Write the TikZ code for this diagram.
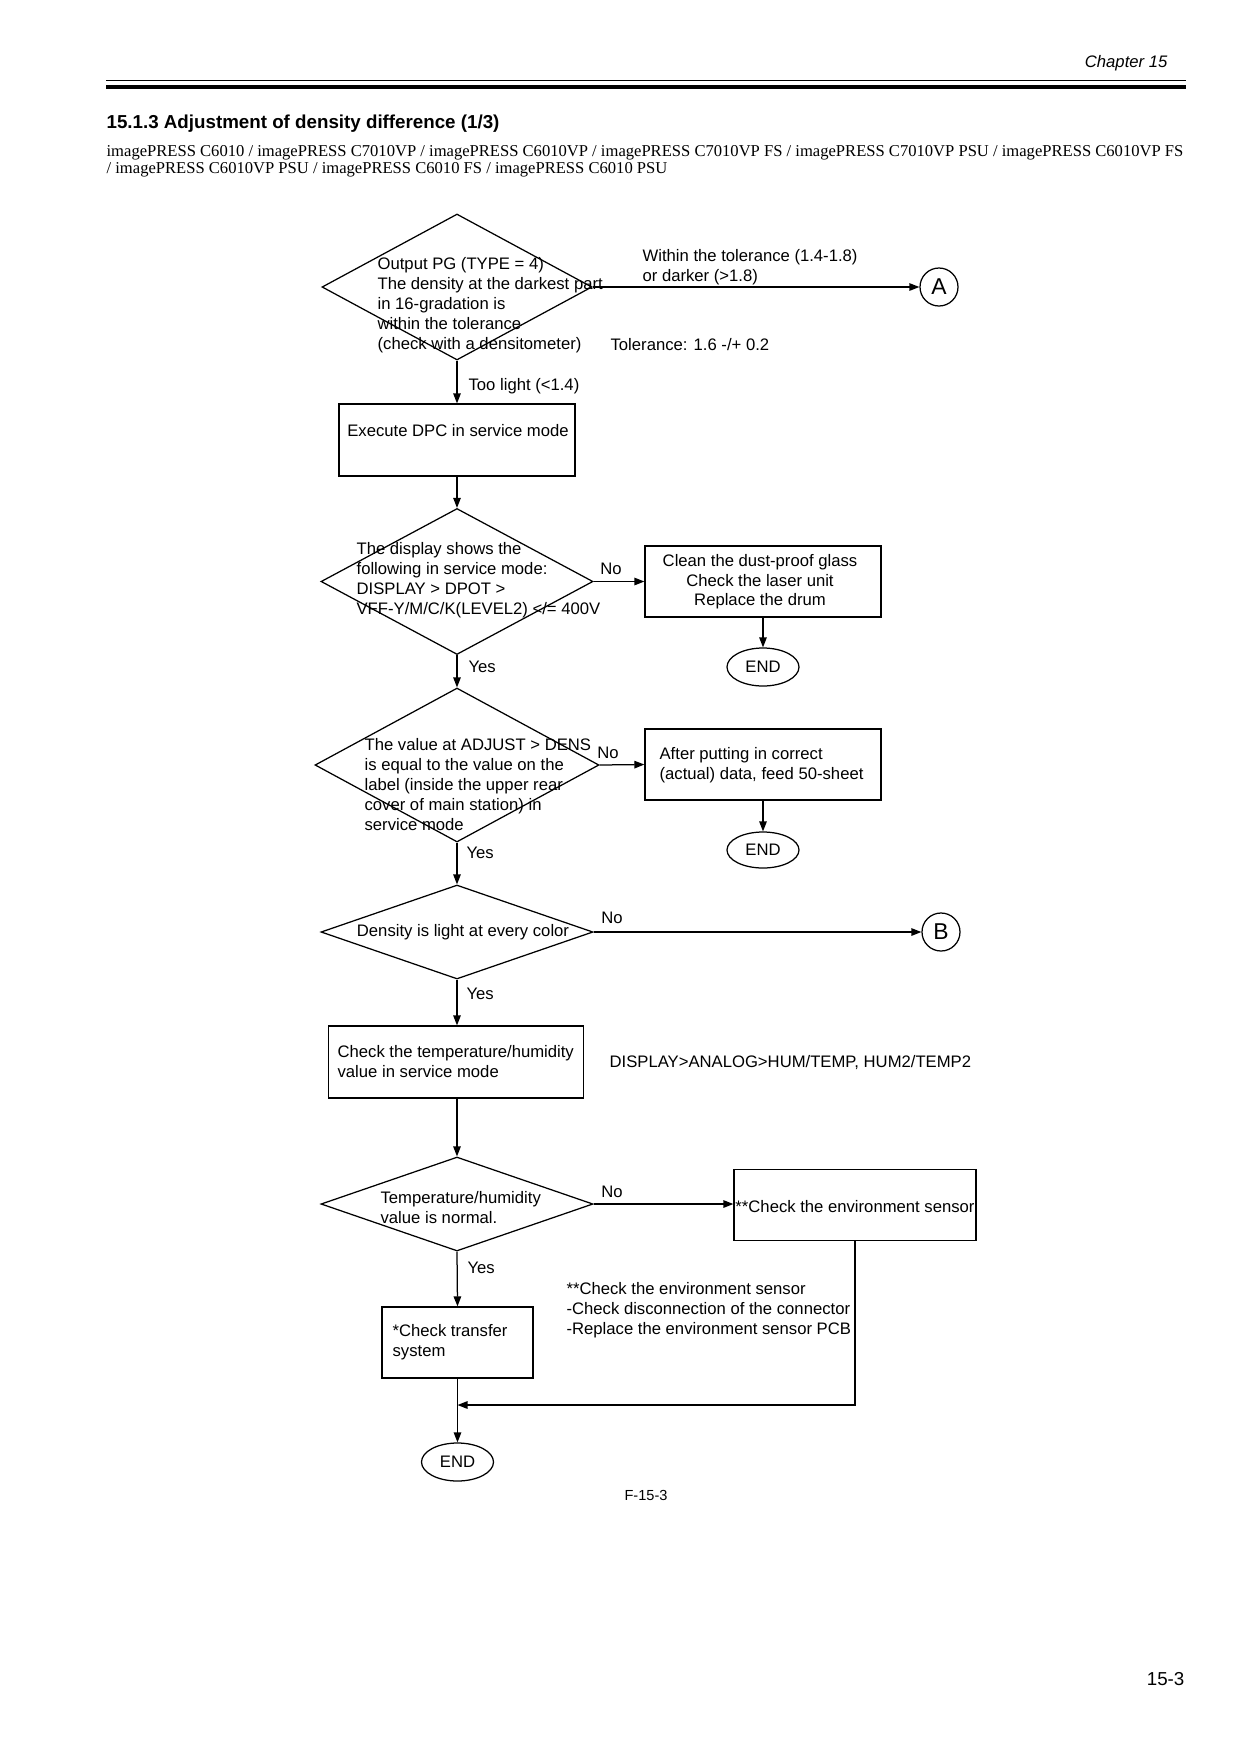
\documentclass[tikz,border=0pt]{standalone}
\usepackage{fontspec}
\setmainfont{Liberation Sans}
\newfontfamily\seriffont{Liberation Serif}
\usetikzlibrary{shapes.geometric,arrows.meta}
\newdimen\px \px=0.48pt
\begin{document}
\begin{tikzpicture}[x=0.48pt,y=-0.48pt,line width=0.6pt,
  arr/.style={-{Triangle[length=4.8pt,width=3.6pt]}},
  dia/.style={draw,diamond,inner sep=0pt},
  box/.style={draw,rectangle,inner sep=0pt},
  term/.style={draw,ellipse,inner sep=0pt,minimum width=72\px,minimum height=38\px,font=\fontsize{8}{9.6}\selectfont},
  conn/.style={draw,circle,inner sep=0pt,minimum size=38\px,font=\fontsize{11}{13}\selectfont},
  txt/.style={inner sep=0pt,align=left,font=\fontsize{8}{9.6}\selectfont},
  ctxt/.style={inner sep=0pt,align=center,font=\fontsize{8}{9.4}\selectfont},
]
\useasboundingbox[fill=white] (0,0) rectangle (1240,1754);

% header
\node[anchor=east,inner sep=0pt,font=\fontsize{8}{9.6}\selectfont\itshape] (chap) at (1168,63) {Chapter 15};
\draw[line width=0.6pt] (106,80.5) -- (1186,80.5);
\draw[line width=1.9pt] (106,87) -- (1186,87);
\node[anchor=west,inner sep=0pt,font=\fontsize{9}{11}\selectfont\bfseries] (title) at (106,124) {15.1.3 Adjustment of density difference (1/3)};
\node[anchor=west,inner sep=0pt,font=\fontsize{7.96}{9}\seriffont] (models1) at (106,153) {imagePRESS C6010 / imagePRESS C7010VP / imagePRESS C6010VP / imagePRESS C7010VP FS / imagePRESS C7010VP PSU / imagePRESS C6010VP FS};
\node[anchor=west,inner sep=0pt,font=\fontsize{7.96}{9}\seriffont] (models2) at (106,170) {/ imagePRESS C6010VP PSU / imagePRESS C6010 FS / imagePRESS C6010 PSU};

% step 1
\node[dia,minimum width=270\px,minimum height=146\px] (d1) at (457,287) {};
\node[txt,anchor=west] (d1t) at (377,305) {Output PG (TYPE = 4)\\The density at the darkest part\\in 16-gradation is\\within the tolerance\\(check with a densitometer)};
\node[conn] (A) at (939,287) {A};
\node[txt,anchor=west] (l1) at (642,267) {Within the tolerance (1.4-1.8)\\or darker (>1.8)};
\node[txt,anchor=west] (tol) at (610,345) {Tolerance: 1.6 -/+ 0.2};
\node[txt,anchor=west] (l2) at (468,386) {Too light (<1.4)};
\node[box,minimum width=236\px,minimum height=72\px] (b1) at (457,440) {};
\node[ctxt] (b1t) at (458,431) {Execute DPC in service mode};

% step 2
\node[dia,minimum width=272\px,minimum height=146\px] (d2) at (457,581.5) {};
\node[txt,anchor=west] (d2t) at (356,580) {The display shows the\\following in service mode:\\DISPLAY > DPOT >\\VFF-Y/M/C/K(LEVEL2) </= 400V};
\node[txt] (n2) at (611,569) {No};
\node[box,minimum width=236\px,minimum height=71\px] (b2) at (763,581.5) {};
\node[ctxt] (b2t) at (760,582) {Clean the dust-proof glass\\Check the laser unit\\Replace the drum};
\node[term,minimum height=38\px] (e2) at (763,667) {END};
\node[txt,anchor=west] (y2) at (468,667) {Yes};

% step 3
\node[dia,minimum width=284\px,minimum height=154\px] (d3) at (457,765) {};
\node[txt,anchor=west] (d3t) at (364,785) {The value at ADJUST > DENS\\is equal to the value on the\\label (inside the upper rear\\cover of main station) in\\service mode};
\node[txt] (n3) at (608,753) {No};
\node[box,minimum width=236\px,minimum height=71\px] (b3) at (763,764.5) {};
\node[txt,anchor=west] (b3t) at (659,765) {After putting in correct\\(actual) data, feed 50-sheet};
\node[term,minimum height=36\px] (e3) at (763,850) {END};
\node[txt,anchor=west] (y3) at (466,853) {Yes};

% step 4
\node[dia,minimum width=272\px,minimum height=94\px] (d4) at (457,932) {};
\node[ctxt] (d4t) at (463,932) {Density is light at every color};
\node[txt] (n4) at (612,918) {No};
\node[conn] (B) at (941,932) {B};
\node[txt,anchor=west] (y4) at (466,994) {Yes};

% step 5
\node[box,minimum width=255\px,minimum height=72\px] (b5) at (456,1062) {};
\node[txt,anchor=west] (b5t) at (337,1062) {Check the temperature/humidity\\value in service mode};
\node[txt,anchor=west] (disp) at (609,1063) {DISPLAY>ANALOG>HUM/TEMP, HUM2/TEMP2};

% step 6
\node[dia,minimum width=272\px,minimum height=94\px] (d5) at (457,1204) {};
\node[txt,anchor=west] (d5t) at (380,1208) {Temperature/humidity\\value is normal.};
\node[txt] (n5) at (612,1192) {No};
\node[box,minimum width=242\px,minimum height=71\px] (b6) at (855,1205) {};
\node[ctxt] (b6t) at (855,1207) {**Check the environment sensor};
\node[txt,anchor=west] (y5) at (467,1268) {Yes};
\node[txt,anchor=west] (notes) at (566,1310) {**Check the environment sensor\\-Check disconnection of the connector\\-Replace the environment sensor PCB};
\node[box,minimum width=151\px,minimum height=71\px] (b7) at (457.5,1342.5) {};
\node[txt,anchor=west] (b7t) at (392,1342) {*Check transfer\\system};
\coordinate (j) at (457.5,1405);
\node[term] (e7) at (457.5,1462) {END};

\node[inner sep=0pt,font=\fontsize{7}{8}\selectfont] (fig) at (646,1495) {F-15-3};
\node[anchor=east,inner sep=0pt,font=\fontsize{9}{11}\selectfont] (page) at (1185,1679) {15-3};

% connectors
\draw[arr] (d1.east) -- (A.west);
\draw[arr] (d1.south) -- (b1.north);
\draw[arr] (b1.south) -- (d2.north);
\draw[arr] (d2.east) -- (b2.west);
\draw[arr] (b2.south) -- (e2.north);
\draw[arr] (d2.south) -- (d3.north);
\draw[arr] (d3.east) -- (b3.west);
\draw[arr] (b3.south) -- (e3.north);
\draw[arr] (d3.south) -- (d4.north);
\draw[arr] (d4.east) -- (B.west);
\draw[arr] (d4.south) -- (d4.south |- b5.north);
\draw[arr] (d5.north |- b5.south) -- (d5.north);
\draw[arr] (d5.east) -- (d5.east -| b6.west);
\draw[arr] (d5.south) -- (b7.north);
\draw[arr] (b6.south) |- (j);
\draw[arr] (b7.south) -- (e7.north);
\end{tikzpicture}
\end{document}
